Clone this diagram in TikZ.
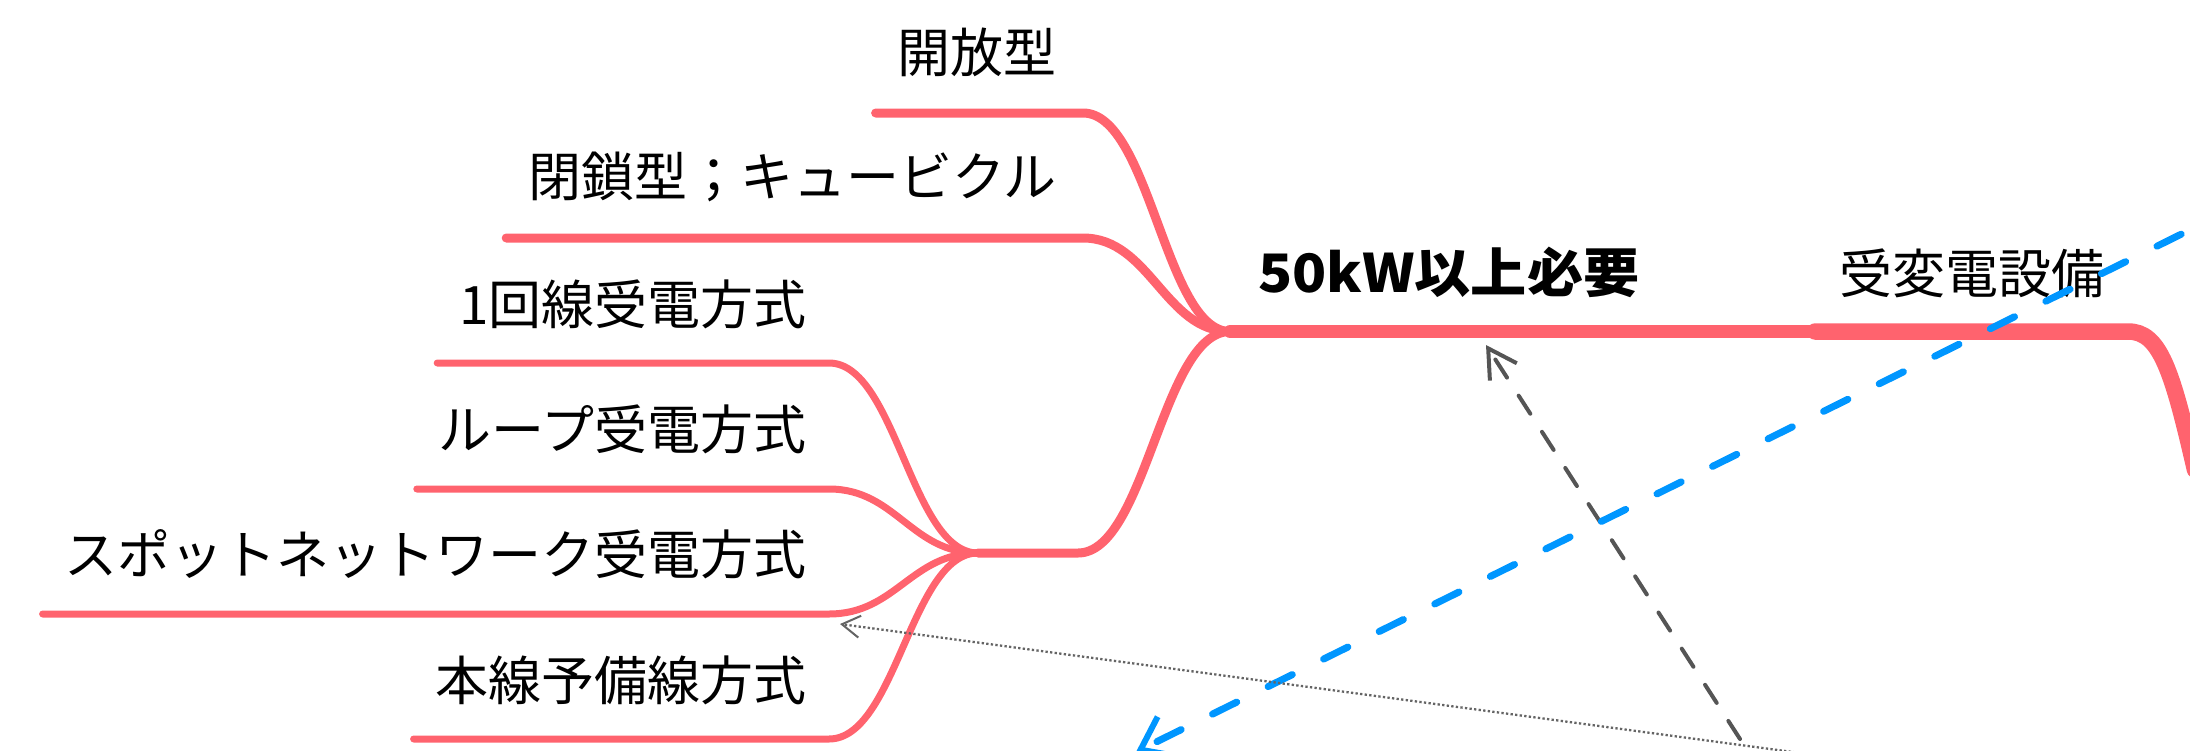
\documentclass[tikz,border=0pt]{standalone}
\usepackage{fontspec}
\setmainfont{Noto Sans CJK JP}
\usetikzlibrary{arrows.meta}
\definecolor{branch}{RGB}{255,99,110}
\definecolor{relblue}{RGB}{0,150,255}
\definecolor{relgray}{RGB}{85,85,85}
\definecolor{dotgray}{RGB}{100,100,100}
\begin{document}
\begin{tikzpicture}[x=1pt,y=-1pt,
  topic/.style={anchor=east, inner xsep=0pt, inner ysep=0pt, font=\fontsize{53}{60}\selectfont, text=black},
  br/.style={draw=branch, line width=#1, line cap=round, line join=round},
  grayrel/.style={draw=relgray, line width=4pt, line cap=round, dash pattern=on 21.5pt off 21.5pt,
     -{Straight Barb[length=28pt,width=32pt,line width=4pt]}},
  bluerel/.style={draw=relblue, line width=7pt, line cap=round, dash pattern=on 27pt off 35pt, dash phase=7.5pt,
     -{Straight Barb[length=30pt,width=44pt,line width=6pt]}},
  dotrel/.style={draw=dotgray, line width=2.3pt, dash pattern=on 2.3pt off 2.3pt,
     -{Straight Barb[length=18pt,width=22pt,line width=2pt]}}]
\useasboundingbox (0,0) rectangle (2190,750);
\clip (0,0) rectangle (2190,750);

% topics
\node[topic] (kaiho) at (1057,52) {開放型};
\node[topic] (heisa) at (1057,177) {閉鎖型；キュービクル};
\node[topic,anchor=west] (kw) at (1258,272) {\scalebox{1.06}[1]{\bfseries 50kW以上必要}};
\node[topic,anchor=west] (jhd) at (1839,273) {受変電設備};
\node[topic] (t1) at (807,304) {1回線受電方式};
\node[topic] (t2) at (807,429) {ループ受電方式};
\node[topic] (t3) at (807,554) {スポットネットワーク受電方式};
\node[topic] (t4) at (807,680) {本線予備線方式};

\coordinate (A) at (1230,331.5);
\coordinate (B) at (978,553);
\coordinate (R) at (1815,331.5);
\coordinate (Rend) at (2195,470);

% main branches
\draw[br=16.5pt] (R) -- (2128,331.5) .. controls (2160,331.5) and (2172,370) .. (Rend);
\draw[br=13pt] (A) -- (R);
\draw[br=9pt] ([xshift=-22pt]kaiho.west |- 0,113) -- (1083,113) .. controls (1150,113) and (1165,331.5) .. (A);
\draw[br=9pt] ([xshift=-22pt]heisa.west |- 0,238) -- (1083,238) .. controls (1150,238) and (1165,331.5) .. (A);
\draw[br=9pt] (B) -- (1078,553) .. controls (1146,553) and (1162,331.5) .. (A);

% sub branches
\draw[br=7pt] ([xshift=-22pt]t1.west |- 0,363) -- (829,363) .. controls (896,363) and (911,553) .. (B);
\draw[br=7pt] ([xshift=-22pt]t2.west |- 0,489) -- (829,489) .. controls (896,489) and (911,553) .. (B);
\draw[br=7pt] ([xshift=-22pt]t3.west |- 0,614) -- (829,614) .. controls (896,614) and (911,553) .. (B);
\draw[br=7pt] ([xshift=-22pt]t4.west |- 0,739) -- (829,739) .. controls (896,739) and (911,553) .. (B);

% relationships
\coordinate (gsrc) at (1740,739);
\coordinate (gtip) at (1486,345);
\draw[grayrel] (gsrc) -- (gtip);

\coordinate (bsrc) at (2230,210);
\coordinate (btip) at (1136,752);
\draw[bluerel] (bsrc) -- (btip);

\coordinate (dsrc) at (1800,753);
\coordinate (dtip) at (840,624);
\draw[dotrel] (dsrc) -- (dtip);
\end{tikzpicture}
\end{document}
